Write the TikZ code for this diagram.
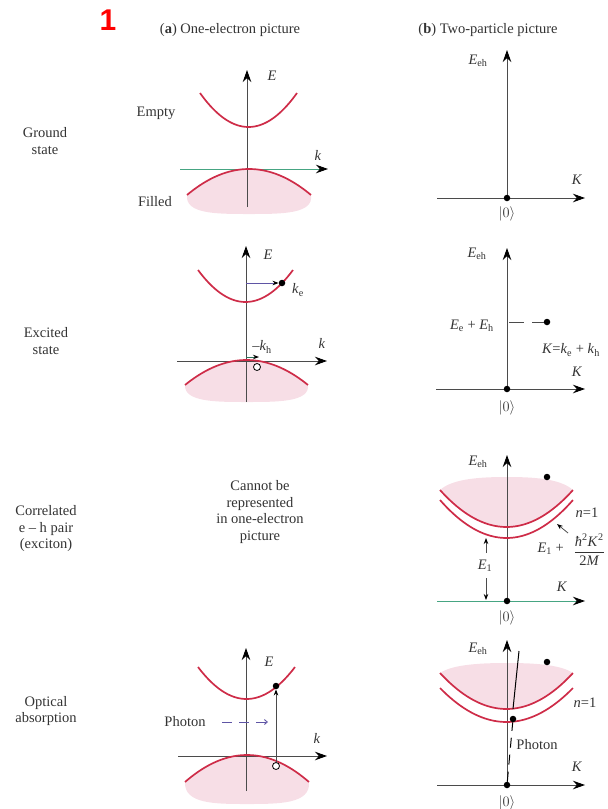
\documentclass[tikz,border=0pt]{standalone}
\usepackage{fontspec}
\setmainfont{Liberation Serif}
\newfontfamily\numfont{Liberation Sans}
\usetikzlibrary{arrows.meta}
\definecolor{bandred}{RGB}{206,44,72}
\definecolor{pinkfill}{RGB}{247,222,230}
\definecolor{axgray}{RGB}{75,75,75}
\definecolor{kgreen}{RGB}{70,165,130}
\definecolor{photonblue}{RGB}{95,85,165}
\newcommand\Eeh{\textit{E}\textsubscript{eh}}
\newcommand\ketzero{$|0\rangle$}
\begin{document}
\begin{tikzpicture}[x=1pt,y=-1pt,
  axis/.style={draw=axgray, line width=0.9pt, -{Stealth[length=12pt,width=8.5pt,color=black]}},
  band/.style={draw=bandred, line width=1.7pt},
  shade/.style={fill=pinkfill, draw=none},
  lab/.style={font=\fontsize{14.5}{16.5}\selectfont, text=black!80, inner sep=0pt},
  rowlab/.style={lab, align=center},
  dotn/.style={circle, fill=black, inner sep=0pt, minimum size=6.5pt},
  hole/.style={circle, draw=black, fill=white, line width=0.8pt, inner sep=0pt, minimum size=7pt},
  thinarrow/.style={draw=axgray, line width=0.8pt, -{Stealth[length=6pt,width=4.5pt,color=black]}},
]
\useasboundingbox (0,0) rectangle (608,809);

% titles
\node[text=red, font=\numfont\fontsize{30}{30}\selectfont\bfseries, inner sep=0pt] (num) at (108,20) {1};
\node[lab] (ta) at (230,30) {(\textbf{a}) One-electron picture};
\node[lab] (tb) at (488,30) {(\textbf{b}) Two-particle picture};

% row labels
\node[rowlab] (r1) at (45,141) {Ground\\state};
\node[rowlab] (r2) at (46,341) {Excited\\state};
\node[rowlab] (r3) at (46,529) {Correlated\\e -- h pair\\(exciton)};
\node[rowlab] (r4) at (46,711) {Optical\\absorption};

%%%%%%%%%%%%%%%% Row 1 left
\fill[shade] plot[domain=-1:1,samples=40] ({249+62*\x},{169+26*\x*\x})
  .. controls (314,214) and (282,214) .. (249,214) .. controls (216,214) and (185,214) .. (187,195) -- cycle;
\coordinate (a1b) at (247,207);
\coordinate (a1t) at (247,70);
\draw[axis] (a1b) -- (a1t);
\coordinate (a1l) at (180,169);
\coordinate (a1r) at (328,169);
\draw[axis, draw=kgreen] (a1l) -- (a1r);
\draw[band] plot[domain=-1:1,samples=40] ({248.5+48.5*\x},{127-34*\x*\x});
\draw[band] plot[domain=-1:1,samples=40] ({249+62*\x},{169+26*\x*\x});
\node[lab] (a1E) at (272,76) {\textit{E}};
\node[lab] (a1k) at (318,155) {\textit{k}};
\node[lab] (a1empty) at (156,113) {Empty};
\node[lab] (a1filled) at (155,202) {Filled};

%%%%%%%%%%%%%%%% Row 1 right
\coordinate (b1o) at (507,198);
\coordinate (b1t) at (507,50);
\coordinate (b1l) at (437,198);
\coordinate (b1r) at (585,198);
\draw[axis] (b1o) -- (b1t);
\draw[axis] (b1l) -- (b1r);
\node[dotn] (b1dot) at (b1o) {};
\node[lab] (b1ket) at (507,214) {\ketzero};
\node[lab] (b1K) at (577,180) {\textit{K}};
\node[lab] (b1E) at (478,61) {\Eeh};

%%%%%%%%%%%%%%%% Row 2 left
\fill[shade] plot[domain=-1:1,samples=40] ({246.5+61.5*\x},{360+25*\x*\x})
  .. controls (310,402) and (278,402) .. (247,402) .. controls (216,402) and (184,402) .. (185,385) -- cycle;
\coordinate (a2b) at (246,402);
\coordinate (a2t) at (246,246);
\draw[axis] (a2b) -- (a2t);
\coordinate (a2l) at (177,361);
\coordinate (a2r) at (327,361);
\draw[axis] (a2l) -- (a2r);
\draw[band] plot[domain=-1:1,samples=40] ({245.5+47.5*\x},{302-32*\x*\x});
\draw[band] plot[domain=-1:1,samples=40] ({246.5+61.5*\x},{360+25*\x*\x});
\node[lab] (a2E) at (268,255) {\textit{E}};
\node[lab] (a2k) at (322,343) {\textit{k}};
\node[dotn] (a2e) at (282,283) {};
\coordinate (a2es) at (246,283);
\draw[thinarrow, draw=photonblue] (a2es) -- (a2e.west);
\node[lab, anchor=west] (a2ke) at (292,290) {\textit{k}\textsubscript{e}};
\node[hole] (a2h) at (257,367) {};
\coordinate (a2hs) at (246,357);
\coordinate (a2he) at (259,357);
\draw[thinarrow, draw=kgreen!70!black, line width=1pt] (a2hs) -- (a2he);
\node[lab] (a2kh) at (262,347) {--\textit{k}\textsubscript{h}};

%%%%%%%%%%%%%%%% Row 2 right
\coordinate (b2o) at (507,389);
\coordinate (b2t) at (507,248);
\coordinate (b2l) at (436,389);
\coordinate (b2r) at (585,389);
\draw[axis] (b2o) -- (b2t);
\draw[axis] (b2l) -- (b2r);
\node[dotn] (b2dot) at (b2o) {};
\node[lab] (b2ket) at (507,408) {\ketzero};
\node[lab] (b2K) at (577,372) {\textit{K}};
\node[lab] (b2E) at (477,254) {\Eeh};
\node[dotn] (b2p) at (547,322) {};
\coordinate (b2ds) at (509,322);
\draw[axgray, line width=0.9pt, dash pattern=on 15pt off 8pt] (b2ds) -- (b2p.west);
\node[lab, anchor=east] (b2EE) at (494,326) {\textit{E}\textsubscript{e} + \textit{E}\textsubscript{h}};
\node[lab] (b2KK) at (571,350) {\textit{K}=\textit{k}\textsubscript{e} + \textit{k}\textsubscript{h}};

%%%%%%%%%%%%%%%% Row 3 left
\node[rowlab, align=center] (a3txt) at (260,512) {Cannot be\\represented\\in one-electron\\picture};

%%%%%%%%%%%%%%%% Row 3 right
\fill[shade] plot[domain=-1:1,samples=40] ({506.5+66.5*\x},{527-37*\x*\x})
  .. controls (560,478) and (530,477) .. (507,477) .. controls (484,477) and (453,478) .. (440,490) -- cycle;
\coordinate (b3o) at (507,601);
\coordinate (b3t) at (507,455);
\coordinate (b3l) at (437,601);
\coordinate (b3r) at (585,601);
\draw[axis] (b3o) -- (b3t);
\draw[axis, draw=kgreen] (b3l) -- (b3r);
\draw[band] plot[domain=-1:1,samples=40] ({506.5+66.5*\x},{527-37*\x*\x});
\draw[band] plot[domain=-1:1,samples=40] ({506.5+66.5*\x},{538-38*\x*\x});
\node[dotn] (b3dot) at (b3o) {};
\node[lab] (b3ket) at (507,618) {\ketzero};
\node[lab] (b3K) at (562,587) {\textit{K}};
\node[lab] (b3E) at (478,462) {\Eeh};
\node[dotn] (b3p) at (547,477) {};
\node[lab] (b3n) at (587,513) {\textit{n}=1};
\coordinate (b3as) at (568,533);
\coordinate (b3ae) at (557,524);
\draw[thinarrow] (b3as) -- (b3ae);
\node[lab, anchor=east] (b3E1p) at (564,549) {\textit{E}\textsubscript{1} +};
\node[lab, anchor=east] (b3frac) at (605,550) {$\displaystyle\frac{\mbox{\textit{ħ}\textsuperscript{2}\textit{K}\textsuperscript{2}}}{\mbox{2\textit{M}}}$};
\node[lab] (b3E1) at (485,566) {\textit{E}\textsubscript{1}};
\coordinate (b3u1) at (486,553);
\coordinate (b3u2) at (486,538);
\coordinate (b3d1) at (486,578);
\coordinate (b3d2) at (486,600);
\draw[thinarrow] (b3u1) -- (b3u2);
\draw[thinarrow] (b3d1) -- (b3d2);

%%%%%%%%%%%%%%%% Row 4 left
\fill[shade] plot[domain=-1:1,samples=40] ({247+62*\x},{755+27*\x*\x})
  .. controls (311,804) and (279,804) .. (247,804) .. controls (215,804) and (184,804) .. (185,782) -- cycle;
\coordinate (a4b) at (246,791);
\coordinate (a4t) at (246,648);
\draw[axis] (a4b) -- (a4t);
\coordinate (a4l) at (178,756);
\coordinate (a4r) at (327,756);
\draw[axis] (a4l) -- (a4r);
\draw[band] plot[domain=-1:1,samples=40] ({246.5+48.5*\x},{699-32*\x*\x});
\draw[band] plot[domain=-1:1,samples=40] ({247+62*\x},{755+27*\x*\x});
\node[lab] (a4E) at (269,662) {\textit{E}};
\node[lab] (a4k) at (317,738) {\textit{k}};
\node[dotn] (a4e) at (276,686) {};
\node[hole] (a4h) at (276,766) {};
\draw[thinarrow] (a4h) -- (a4e);
\node[lab] (a4ph) at (185,722) {Photon};
\coordinate (a4ds) at (222,722);
\coordinate (a4de) at (268,722);
\draw[photonblue, line width=0.9pt, dash pattern=on 10pt off 7pt, -{Straight Barb[length=3pt,width=5pt]}] (a4ds) -- (a4de);

%%%%%%%%%%%%%%%% Row 4 right
\fill[shade] plot[domain=-1:1,samples=40] ({506.5+66.5*\x},{709-36*\x*\x})
  .. controls (560,664) and (530,663) .. (507,663) .. controls (484,663) and (453,664) .. (440,673) -- cycle;
\coordinate (b4o) at (507,785);
\coordinate (b4t) at (507,640);
\coordinate (b4l) at (437,785);
\coordinate (b4r) at (585,785);
\draw[axis] (b4o) -- (b4t);
\draw[axis] (b4l) -- (b4r);
\draw[band] plot[domain=-1:1,samples=40] ({506.5+66.5*\x},{709-36*\x*\x});
\draw[band] plot[domain=-1:1,samples=40] ({506.5+66.5*\x},{722-34*\x*\x});
\node[dotn] (b4dot) at (b4o) {};
\node[lab] (b4ket) at (507,803) {\ketzero};
\node[lab] (b4K) at (577,767) {\textit{K}};
\node[lab] (b4E) at (478,649) {\Eeh};
\node[dotn] (b4p) at (547,662) {};
\node[lab] (b4n) at (585,703) {\textit{n}=1};
\node[dotn] (b4x) at (513,719) {};
\coordinate (b4ps) at (513,709);
\coordinate (b4pe) at (519,651);
\draw[black, line width=1pt] (b4ps) -- (b4pe);
\draw[black, line width=1pt, dash pattern=on 10pt off 7pt] (b4dot) -- (b4x);
\node[lab] (b4ph) at (537,745) {Photon};
\end{tikzpicture}
\end{document}
